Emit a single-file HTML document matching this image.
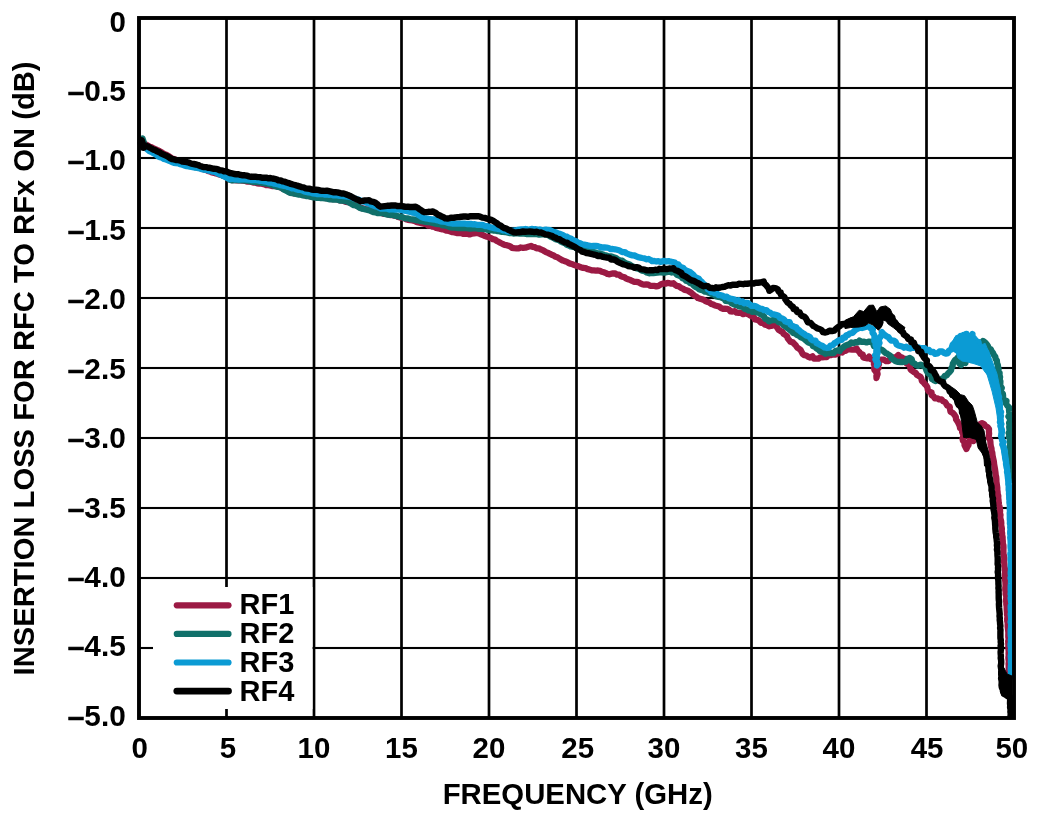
<!DOCTYPE html><html><head><meta charset="utf-8"><style>html,body{margin:0;padding:0;background:#fff;}svg{display:block;will-change:transform;}text{font-family:"Liberation Sans",Arial,sans-serif;font-weight:bold;fill:#000;}</style></head><body>
<svg width="1058" height="824" viewBox="0 0 1058 824">
<rect x="225.15" y="18" width="2.7" height="700" fill="#000"/>
<rect x="312.65" y="18" width="2.7" height="700" fill="#000"/>
<rect x="400.15" y="18" width="2.7" height="700" fill="#000"/>
<rect x="487.65" y="18" width="2.7" height="700" fill="#000"/>
<rect x="575.15" y="18" width="2.7" height="700" fill="#000"/>
<rect x="662.65" y="18" width="2.7" height="700" fill="#000"/>
<rect x="750.15" y="18" width="2.7" height="700" fill="#000"/>
<rect x="837.65" y="18" width="2.7" height="700" fill="#000"/>
<rect x="925.15" y="18" width="2.7" height="700" fill="#000"/>
<rect x="139" y="86.95" width="875" height="2.1" fill="#000"/>
<rect x="139" y="156.95" width="875" height="2.1" fill="#000"/>
<rect x="139" y="226.95" width="875" height="2.1" fill="#000"/>
<rect x="139" y="296.95" width="875" height="2.1" fill="#000"/>
<rect x="139" y="366.95" width="875" height="2.1" fill="#000"/>
<rect x="139" y="436.95" width="875" height="2.1" fill="#000"/>
<rect x="139" y="506.95" width="875" height="2.1" fill="#000"/>
<rect x="139" y="576.95" width="875" height="2.1" fill="#000"/>
<rect x="139" y="646.95" width="875" height="2.1" fill="#000"/>
<rect x="153" y="587" width="159.5" height="122" fill="#fff"/>
<path d="M141.0,142.0 L143.3,143.1 L145.6,144.4 L148.0,145.5 L149.7,146.7 L151.6,147.3 L153.4,148.2 L155.2,149.2 L157.0,150.0 L158.9,150.7 L160.6,151.8 L162.4,152.8 L164.1,153.9 L166.0,154.6 L168.2,155.7 L170.1,157.1 L172.0,158.5 L174.2,159.0 L176.1,160.2 L178.2,160.9 L180.4,161.2 L182.3,162.6 L184.5,163.0 L186.3,164.0 L188.4,164.4 L190.3,165.1 L192.4,165.4 L194.3,166.0 L196.2,167.0 L198.2,167.4 L200.1,168.1 L202.0,169.0 L204.1,169.5 L206.1,169.9 L208.0,170.9 L210.0,171.5 L211.9,172.4 L214.0,172.8 L216.0,173.5 L218.0,174.0 L220.0,174.7 L222.0,175.2 L224.0,175.7 L226.0,176.5 L227.8,178.3 L230.0,179.5 L232.1,180.1 L234.2,180.2 L236.3,180.3 L238.5,180.3 L240.6,180.4 L242.7,180.7 L244.8,180.8 L246.9,181.5 L249.0,181.5 L251.1,181.8 L253.2,182.5 L255.3,182.6 L257.3,183.4 L259.5,183.7 L261.7,183.6 L263.7,184.1 L265.7,185.0 L267.9,185.1 L270.0,185.5 L272.0,186.1 L274.0,186.0 L276.0,186.1 L278.0,186.8 L280.0,187.0 L281.9,188.2 L284.1,189.0 L286.1,189.9 L288.1,191.1 L290.0,192.3 L292.0,193.0 L294.1,193.3 L296.2,193.3 L298.3,193.8 L300.4,194.1 L302.4,194.5 L304.4,195.4 L306.6,195.4 L308.6,196.0 L310.6,196.4 L312.7,196.8 L314.8,196.8 L316.8,197.4 L318.9,197.2 L320.9,197.7 L323.0,197.6 L325.1,198.0 L327.2,198.1 L329.2,198.3 L331.2,199.0 L333.3,199.1 L335.4,199.1 L337.5,199.5 L339.5,200.3 L341.7,200.4 L343.8,201.0 L345.8,201.8 L347.9,202.1 L350.0,202.5 L352.1,203.2 L353.8,204.7 L356.0,205.1 L357.9,206.1 L359.8,207.3 L361.8,208.1 L363.8,208.5 L365.7,209.0 L367.7,209.4 L369.6,209.9 L371.5,210.8 L373.5,211.1 L375.4,211.8 L377.5,212.3 L379.6,212.6 L381.7,213.0 L383.7,213.8 L385.9,213.9 L388.0,214.4 L390.0,215.0 L392.2,215.0 L394.3,215.6 L396.3,215.9 L398.1,217.0 L400.1,217.5 L402.2,217.7 L404.2,218.3 L406.0,219.2 L408.0,219.9 L410.0,220.2 L412.3,220.4 L414.5,221.0 L416.4,221.9 L418.4,222.5 L420.5,222.9 L422.5,223.4 L424.5,223.8 L426.5,224.3 L428.3,225.6 L430.5,225.7 L432.4,226.6 L434.5,226.9 L436.3,227.9 L438.4,228.3 L440.4,228.9 L442.5,229.3 L444.5,229.8 L446.4,230.7 L448.6,230.8 L450.5,231.5 L452.5,232.2 L454.6,232.5 L456.7,233.0 L458.9,233.1 L461.0,233.1 L463.1,233.9 L465.3,233.6 L467.4,233.8 L469.5,234.4 L471.8,233.7 L474.2,233.4 L476.6,232.9 L478.8,233.4 L480.9,234.3 L483.0,235.2 L485.1,236.1 L487.1,236.8 L489.1,237.3 L491.1,238.1 L492.9,239.2 L495.0,239.6 L496.8,241.0 L498.8,241.9 L500.7,243.0 L502.7,244.0 L504.6,244.8 L506.6,245.2 L508.5,245.8 L510.4,246.5 L512.0,247.8 L514.0,248.2 L516.3,248.3 L518.6,248.4 L520.8,247.5 L523.1,247.9 L525.4,247.7 L528.2,246.8 L531.0,246.0 L532.8,246.8 L534.8,247.2 L536.6,248.3 L538.7,248.3 L540.5,249.3 L542.4,249.9 L544.2,251.0 L546.0,252.1 L548.0,252.9 L549.9,253.8 L551.7,254.8 L553.7,255.5 L555.4,256.8 L557.5,257.3 L559.3,258.5 L561.1,259.6 L563.0,260.6 L565.0,261.2 L566.9,261.9 L568.7,263.0 L570.6,263.8 L572.6,264.3 L574.5,265.1 L576.4,265.8 L578.7,266.4 L580.9,267.2 L583.1,267.9 L585.6,268.1 L587.7,269.2 L589.7,269.6 L591.7,270.3 L593.8,270.4 L595.9,270.6 L598.0,270.5 L600.0,270.9 L601.8,271.8 L603.8,272.3 L605.7,272.9 L607.5,274.0 L609.5,274.3 L612.3,273.4 L615.2,273.5 L616.9,274.6 L619.1,274.6 L620.6,276.0 L622.5,276.7 L624.5,277.3 L626.1,278.6 L628.0,279.2 L630.0,279.9 L632.0,280.8 L633.9,281.8 L636.2,281.8 L638.3,282.2 L640.3,283.3 L642.2,284.2 L644.2,284.7 L646.3,284.4 L648.3,284.7 L650.2,285.9 L652.2,285.9 L654.3,285.9 L656.3,286.3 L658.8,285.8 L661.0,284.2 L663.4,283.5 L665.4,283.7 L667.4,283.0 L669.4,283.2 L671.4,283.7 L673.4,283.2 L675.0,284.8 L676.9,285.9 L679.1,286.4 L680.9,287.8 L682.9,288.6 L684.7,289.9 L687.5,290.5 L690.0,292.0 L691.7,293.1 L693.1,294.6 L694.7,295.8 L696.5,296.7 L698.0,298.1 L700.0,298.7 L702.0,299.3 L704.0,300.0 L705.7,301.3 L707.7,301.9 L709.6,302.7 L711.3,304.0 L713.3,304.6 L715.1,305.5 L717.1,306.0 L719.1,306.5 L720.8,307.9 L722.6,308.8 L724.8,308.7 L726.9,308.8 L728.9,309.4 L730.4,311.4 L732.5,311.5 L734.8,311.2 L736.7,312.7 L738.9,312.9 L741.1,312.9 L743.0,314.2 L745.4,313.3 L747.5,314.0 L749.5,315.0 L751.4,316.2 L753.8,316.9 L754.9,319.4 L757.4,319.8 L759.4,321.0 L760.9,322.8 L763.3,322.9 L765.1,324.8 L767.3,325.3 L769.4,326.3 L772.3,325.6 L775.0,324.5 L776.2,326.3 L777.4,328.0 L778.6,329.8 L780.4,331.0 L782.5,331.9 L783.6,333.8 L785.4,335.0 L787.1,336.3 L787.8,338.5 L789.2,340.1 L790.5,341.8 L792.9,342.4 L794.4,344.0 L795.9,345.5 L797.1,347.5 L798.9,348.6 L800.6,350.0 L801.6,351.9 L802.6,353.8 L804.2,355.2 L806.3,355.5 L808.1,356.8 L810.1,357.5 L812.5,356.3 L814.1,358.6 L816.3,358.7 L818.4,358.7 L820.2,357.3 L822.4,357.4 L824.5,357.2 L826.7,357.2 L828.4,355.4 L830.5,355.2 L832.5,354.5 L835.3,354.5 L837.7,353.5 L840.0,352.0 L842.2,352.5 L843.9,350.9 L845.9,350.8 L847.6,349.2 L849.7,349.4 L852.1,349.6 L854.4,349.6 L856.6,348.5 L857.7,350.5 L859.4,352.0 L860.5,353.9 L862.8,354.5 L863.1,357.2 L865.2,358.0 L867.5,358.4 L869.1,356.6 L870.9,359.2 L874.0,360.0 L874.2,362.0 L873.9,364.1 L875.3,365.9 L874.1,368.1 L874.5,370.1 L876.0,371.9 L876.9,373.9 L876.4,376.0 L876.5,378.0 L876.9,376.0 L877.6,374.1 L877.2,372.0 L876.4,369.9 L878.5,368.1 L877.0,365.9 L879.0,364.1 L878.5,362.0 L879.6,360.2 L881.7,359.6 L884.0,359.7 L886.1,361.2 L888.5,361.0 L890.0,359.1 L892.0,357.9 L894.4,357.4 L896.6,356.7 L898.3,355.0 L899.8,356.7 L901.9,357.4 L903.6,358.9 L906.0,359.0 L906.9,361.1 L906.8,363.6 L909.6,364.8 L910.2,367.1 L910.5,369.4 L912.1,370.8 L913.8,372.0 L915.7,372.8 L916.8,374.8 L918.6,375.9 L920.4,376.8 L921.4,378.6 L921.8,380.8 L923.5,382.3 L924.7,384.0 L926.3,385.5 L927.4,387.4 L927.8,389.8 L928.9,391.6 L931.6,392.5 L931.6,395.1 L933.5,396.4 L934.9,398.3 L937.3,398.3 L939.2,399.4 L941.5,399.5 L943.0,401.1 L945.0,402.0 L946.2,403.8 L947.3,405.6 L949.7,406.6 L950.0,409.0 L950.5,411.7 L952.9,413.0 L954.5,414.9 L955.8,417.0 L956.1,419.5 L957.6,421.6 L958.7,423.7 L959.7,426.0 L960.1,428.2 L962.3,429.6 L962.1,432.0 L963.0,434.0 L963.5,436.2 L962.5,438.5 L962.9,440.7 L964.7,442.7 L964.5,445.0 L965.5,447.0 L966.5,449.0 L967.3,446.9 L968.5,445.0 L968.7,442.6 L969.9,440.4 L969.5,438.0 L971.5,437.0 L971.6,439.4 L973.5,441.0 L974.4,439.0 L975.5,437.0 L975.7,434.6 L976.0,432.3 L977.6,430.3 L978.0,428.0 L979.9,426.5 L980.0,424.0 L982.0,423.1 L984.0,424.0 L985.3,426.0 L987.5,427.0 L989.0,429.1 L988.9,431.4 L989.1,433.7 L988.8,436.0 L988.8,438.1 L990.1,439.9 L990.4,441.9 L990.5,444.0 L990.8,446.2 L991.5,448.4 L991.6,450.6 L992.3,452.8 L992.5,455.0 L992.9,457.3 L993.4,459.5 L993.9,461.7 L994.1,464.0 L994.5,466.2 L994.9,468.5 L995.2,470.7 L995.5,472.8 L995.7,475.0 L996.2,477.1 L996.4,479.3 L996.4,481.5 L996.7,483.7 L997.0,485.8 L997.3,488.0 L997.3,490.0 L997.6,492.0 L997.7,494.0 L998.3,496.0 L998.2,498.0 L998.5,500.0 L998.7,502.4 L999.0,504.7 L999.6,507.0 L999.9,509.0 L1000.1,511.0 L999.9,513.0 L1000.5,515.0 L1000.2,517.0 L1000.5,519.0 L1001.1,521.0 L1001.3,523.0 L1001.2,525.0 L1001.6,527.0 L1001.9,529.0 L1001.7,531.0 L1002.1,533.0 L1002.1,535.0 L1002.6,537.0 L1002.6,539.0 L1002.8,541.1 L1002.8,543.3 L1003.4,545.4 L1003.5,547.5 L1003.4,549.6 L1003.4,551.8 L1003.5,553.9 L1004.0,556.0 L1004.3,558.0 L1004.2,560.0 L1004.1,562.0 L1004.4,564.0 L1004.4,566.0 L1004.8,568.0 L1004.9,570.0 L1005.0,572.0 L1005.1,574.0 L1004.9,576.0 L1005.0,578.0 L1005.1,580.0 L1005.4,582.0 L1005.5,584.0 L1005.6,586.0 L1005.3,588.0 L1005.3,590.0 L1005.7,592.0 L1005.6,594.1 L1006.2,596.1 L1006.3,598.1 L1005.9,600.2 L1006.3,602.2 L1006.3,604.3 L1006.7,606.3 L1006.7,608.4 L1006.8,610.4 L1007.0,612.5 L1007.0,614.5 L1007.5,616.6 L1007.2,618.6 L1007.2,620.7 L1007.7,622.7 L1007.7,624.8 L1007.7,626.8 L1008.0,628.9 L1008.2,630.9 L1008.4,632.9 L1008.3,635.0 L1008.3,637.1 L1008.7,639.1 L1008.2,641.2 L1008.3,643.2 L1008.4,645.3 L1008.3,647.3 L1008.5,649.4 L1008.7,651.4 L1008.6,653.5 L1008.7,655.5 L1008.4,657.6 L1008.6,659.6 L1008.9,661.7 L1008.6,663.7 L1008.7,665.8 L1008.7,667.8 L1008.7,669.9 L1009.0,671.9 L1009.0,674.0" fill="none" stroke="#9c1a44" stroke-width="6.3" stroke-linejoin="round" stroke-linecap="round"/>
<path d="M141.0,140.0 L142.5,138.5 L143.4,141.0 L144.1,143.5 L145.0,146.0 L146.8,147.2 L148.9,148.0 L150.8,149.1 L152.5,150.4 L154.5,151.5 L156.1,152.9 L158.1,154.0 L160.0,155.0 L161.9,155.8 L163.8,156.6 L165.6,157.4 L167.6,157.8 L169.4,158.8 L171.4,159.4 L173.1,160.6 L175.2,160.9 L176.9,162.1 L179.0,162.4 L180.7,163.6 L182.7,164.1 L184.5,165.0 L186.7,165.4 L188.9,166.1 L191.2,166.0 L193.4,166.4 L195.5,167.4 L197.8,167.6 L200.0,168.0 L202.2,168.2 L204.2,169.3 L206.4,169.8 L208.6,169.7 L210.7,170.4 L212.9,170.8 L215.0,171.5 L217.0,172.4 L218.8,173.6 L220.9,174.3 L222.6,175.6 L224.7,176.2 L226.5,177.5 L228.4,178.6 L230.0,180.0 L232.2,180.3 L234.4,180.1 L236.6,180.2 L238.8,180.4 L241.0,180.3 L243.2,180.3 L245.4,180.5 L247.5,180.5 L249.6,181.2 L251.7,181.7 L253.8,181.9 L255.9,182.0 L258.0,182.1 L260.1,182.3 L262.2,182.9 L264.3,183.0 L266.2,183.7 L268.3,183.8 L270.2,184.4 L272.2,185.1 L274.1,185.7 L276.0,186.4 L278.0,186.8 L280.0,187.3 L282.2,188.1 L283.9,189.7 L286.0,190.6 L288.0,191.7 L290.0,192.8 L292.1,193.0 L294.1,193.6 L296.2,194.0 L298.2,194.6 L300.4,194.6 L302.4,195.3 L304.5,195.4 L306.5,196.2 L308.6,196.2 L310.7,196.7 L312.7,197.3 L314.8,197.4 L316.8,197.8 L318.9,197.6 L321.0,198.1 L323.0,198.1 L325.1,198.4 L327.1,198.7 L329.2,199.3 L331.3,199.2 L333.3,199.7 L335.4,199.6 L337.8,199.7 L340.2,200.6 L342.6,200.6 L345.0,201.0 L347.6,201.8 L350.0,203.0 L351.9,204.1 L353.8,205.1 L356.0,205.5 L357.9,206.6 L359.8,207.8 L361.8,208.6 L363.8,209.0 L365.7,209.5 L367.7,209.9 L369.7,210.4 L371.5,211.3 L373.4,212.1 L375.4,212.3 L377.4,213.0 L379.6,213.0 L381.8,213.0 L383.8,213.6 L385.9,214.2 L388.0,214.6 L390.1,214.8 L392.2,214.9 L394.3,215.4 L396.3,215.9 L398.2,216.3 L400.2,216.9 L402.2,217.1 L404.0,218.0 L406.0,218.4 L408.1,218.4 L410.0,219.1 L412.3,219.3 L414.5,219.7 L416.4,220.3 L418.5,220.3 L420.4,221.1 L422.5,221.1 L424.4,221.6 L426.4,222.0 L428.5,222.0 L430.5,222.4 L432.5,222.8 L434.4,223.4 L436.4,223.8 L438.4,224.0 L440.5,224.2 L442.4,225.3 L444.5,225.4 L446.5,225.8 L448.5,226.5 L450.4,227.3 L452.5,227.5 L454.5,227.6 L456.6,227.8 L458.6,228.1 L460.6,228.2 L462.6,228.1 L464.7,228.0 L466.7,228.2 L468.7,228.5 L470.7,228.5 L472.8,228.4 L474.8,228.3 L476.8,228.4 L478.9,228.8 L480.9,228.7 L482.9,229.0 L485.0,228.9 L486.9,229.6 L488.9,230.0 L490.9,230.2 L493.0,230.5 L495.0,230.5 L497.0,231.1 L499.1,231.2 L501.1,231.8 L503.1,231.8 L505.2,232.0 L507.2,232.5 L509.2,233.0 L511.3,233.0 L513.4,233.5 L515.6,233.4 L517.7,233.4 L519.8,233.6 L522.0,233.3 L524.1,233.7 L526.2,234.0 L528.4,233.8 L530.5,234.0 L532.7,233.9 L534.9,234.2 L537.1,234.2 L539.2,234.7 L541.5,234.3 L543.6,234.4 L545.8,234.7 L548.0,235.0 L549.8,236.1 L551.7,237.1 L553.6,238.0 L555.4,239.2 L557.5,239.7 L559.5,240.4 L561.2,241.7 L563.2,242.6 L565.2,243.4 L566.8,244.7 L568.9,245.4 L570.7,246.5 L572.8,246.8 L574.9,247.3 L576.8,248.4 L579.1,248.0 L581.1,248.9 L583.1,249.3 L585.2,249.7 L587.2,250.4 L589.3,250.7 L591.2,251.9 L593.4,252.0 L595.6,252.6 L597.8,253.4 L600.1,253.4 L602.3,254.3 L604.5,255.0 L606.7,255.5 L608.9,256.5 L611.4,256.5 L613.7,257.3 L616.0,258.0 L617.8,259.4 L619.8,260.3 L622.1,260.7 L624.0,262.0 L625.9,263.3 L628.0,264.0 L630.1,264.8 L631.9,266.0 L633.9,266.9 L635.8,268.2 L638.0,268.6 L640.0,269.5 L642.2,270.7 L644.7,271.2 L646.8,272.6 L649.2,273.3 L651.2,273.0 L653.3,273.1 L655.3,272.8 L657.3,272.6 L659.3,272.3 L661.4,272.3 L663.4,272.5 L665.4,272.5 L667.4,272.0 L669.4,271.6 L671.4,272.5 L673.4,272.0 L675.4,272.9 L676.9,274.8 L679.0,275.6 L681.0,276.5 L682.6,278.3 L684.7,279.0 L686.1,280.8 L688.4,281.5 L690.0,283.0 L692.2,283.7 L693.7,285.5 L695.4,286.9 L697.5,287.8 L699.2,289.2 L701.3,290.0 L703.2,290.6 L705.0,291.7 L707.1,291.9 L709.0,292.9 L710.9,293.6 L712.8,294.4 L714.7,295.1 L716.3,296.5 L718.4,296.8 L720.5,297.2 L722.4,298.0 L724.2,298.9 L725.6,300.8 L727.8,301.0 L730.0,301.1 L731.4,303.1 L733.2,304.0 L735.2,304.8 L737.4,304.9 L739.0,306.3 L741.2,306.5 L743.2,307.1 L744.6,309.0 L746.7,309.3 L748.4,310.5 L750.7,310.2 L752.2,311.9 L754.6,311.2 L756.3,312.3 L758.4,312.5 L760.0,314.0 L762.2,315.0 L764.0,316.5 L765.1,318.7 L767.4,319.6 L769.0,321.4 L770.9,320.5 L772.9,320.1 L774.9,320.0 L777.0,320.0 L778.2,321.8 L780.1,322.7 L782.3,323.1 L783.3,325.3 L785.1,326.3 L786.8,327.4 L788.3,328.8 L790.0,330.0 L791.7,331.4 L793.3,332.9 L795.4,333.6 L797.1,335.0 L799.1,335.9 L800.8,337.3 L802.9,338.1 L804.6,339.3 L806.3,340.7 L807.9,342.2 L810.0,343.0 L812.0,343.8 L812.9,346.2 L815.1,346.6 L816.4,348.4 L818.3,349.3 L819.7,351.0 L821.7,351.7 L823.8,352.5 L825.4,353.8 L827.4,353.2 L829.5,353.2 L831.6,353.2 L833.7,353.0 L835.4,351.0 L837.4,350.4 L839.6,351.0 L840.8,349.1 L842.4,347.9 L844.1,346.6 L845.7,345.4 L847.7,344.7 L849.7,344.0 L851.3,342.4 L853.7,343.1 L855.6,342.2 L857.8,342.3 L859.4,340.6 L861.7,341.9 L864.2,341.7 L866.6,342.4 L869.1,341.6 L871.6,341.9 L873.1,343.5 L874.0,346.1 L876.4,346.4 L878.6,347.1 L879.7,349.4 L882.0,349.9 L883.7,351.3 L885.2,352.8 L887.2,353.7 L889.0,355.0 L890.8,356.1 L891.6,358.4 L893.4,359.6 L895.6,361.3 L898.0,361.9 L900.5,362.0 L903.1,362.0 L905.9,361.6 L907.5,359.0 L909.9,358.0 L911.8,359.4 L912.2,362.2 L914.3,363.4 L916.0,365.0 L918.1,365.8 L920.6,364.6 L922.6,365.6 L924.7,366.6 L925.8,368.3 L926.4,370.3 L927.3,372.1 L928.6,373.6 L930.5,374.8 L931.5,376.5 L931.7,378.8 L933.5,380.0 L935.8,381.0 L937.8,379.6 L940.0,379.5 L943.7,378.0 L944.6,376.0 L946.8,375.2 L948.0,373.5 L949.6,371.9 L951.0,370.2 L951.5,368.0 L952.6,366.0 L952.8,363.8 L953.9,361.9 L955.0,360.0 L956.8,358.7 L958.2,357.0 L959.7,358.7 L959.5,361.0 L959.3,363.4 L961.0,365.0 L962.2,362.8 L961.8,360.2 L963.0,358.0 L964.4,360.4 L965.5,363.0 L965.4,360.3 L967.7,358.5 L968.0,356.0 L969.2,358.2 L971.0,360.0 L972.0,357.1 L974.3,355.0 L975.8,352.6 L977.0,350.0 L978.5,348.3 L979.7,346.4 L980.8,344.4 L981.7,342.5 L983.0,341.0 L985.0,342.3 L986.6,344.1 L988.0,346.0 L988.3,348.4 L990.8,349.3 L991.7,351.3 L993.0,353.0 L993.9,355.0 L995.3,356.7 L995.6,358.9 L996.9,360.7 L997.0,363.0 L997.8,364.9 L998.1,366.9 L998.6,368.9 L997.6,371.2 L999.6,372.9 L999.5,375.0 L1000.1,377.1 L999.6,379.3 L1000.4,381.4 L1000.3,383.6 L1000.2,385.7 L1001.8,387.8 L1001.0,390.0 L1001.1,392.1 L1002.9,393.8 L1003.1,395.9 L1003.0,398.0 L1004.3,400.1 L1006.5,401.0 L1006.0,403.6 L1007.3,405.6 L1009.1,407.5 L1009.0,410.0 L1009.2,412.1 L1009.7,414.3 L1008.4,416.5 L1009.9,418.6 L1010.1,420.7 L1009.1,422.9 L1009.5,425.0 L1009.2,427.0 L1009.4,429.0 L1009.7,431.0 L1008.6,433.0 L1009.8,435.0 L1008.8,437.0 L1010.1,439.0 L1010.0,441.0 L1010.3,443.0 L1010.0,445.0 L1010.0,447.2 L1010.1,449.3 L1010.6,451.4 L1010.6,453.6 L1010.6,455.7 L1010.9,457.9 L1011.0,460.0 L1011.0,462.0 L1011.0,464.0 L1011.0,466.0 L1011.3,468.0 L1011.4,470.0 L1011.6,472.0 L1011.1,474.0 L1011.2,476.0 L1011.5,478.0 L1011.5,480.0 L1011.9,478.0 L1011.9,476.0 L1011.6,474.0 L1012.1,472.0 L1012.0,470.0" fill="none" stroke="#10706a" stroke-width="6.3" stroke-linejoin="round" stroke-linecap="round"/>
<path d="M141.0,144.0 L142.9,145.4 L144.4,147.1 L146.2,148.6 L148.0,150.0 L149.6,151.3 L151.5,151.9 L153.2,153.0 L155.0,154.0 L156.7,155.0 L158.2,156.4 L160.0,157.3 L162.1,157.8 L164.0,158.9 L166.1,159.5 L168.1,160.3 L170.0,161.2 L172.0,162.0 L174.0,162.8 L176.1,163.2 L178.3,163.4 L180.4,164.2 L182.5,164.7 L184.5,165.5 L186.8,166.2 L189.1,166.5 L191.4,166.9 L193.7,167.3 L196.0,167.5 L198.0,168.1 L200.0,168.4 L202.1,169.2 L204.2,169.6 L206.5,169.8 L208.5,170.7 L210.7,171.0 L212.8,171.7 L215.0,172.0 L216.9,173.0 L218.9,173.8 L220.8,174.7 L222.7,175.7 L224.6,176.5 L226.5,177.6 L230.0,179.0 L232.2,178.8 L234.4,179.3 L236.6,179.3 L238.8,179.5 L241.0,179.3 L243.2,179.3 L245.4,179.3 L247.5,179.7 L249.6,179.5 L251.7,180.1 L253.8,180.1 L255.9,180.2 L258.0,180.4 L260.1,180.9 L262.2,180.9 L264.3,181.3 L266.3,181.7 L268.2,182.3 L270.2,182.7 L272.2,182.9 L274.1,183.7 L276.1,184.0 L278.1,184.4 L280.0,185.1 L282.0,185.4 L284.0,185.9 L286.1,186.2 L288.0,187.0 L290.0,187.4 L292.0,188.3 L294.1,188.4 L296.2,189.2 L298.2,189.9 L300.4,189.8 L302.4,190.4 L304.4,191.4 L306.4,192.0 L308.5,192.4 L310.7,192.6 L312.7,193.4 L314.8,193.5 L316.8,194.0 L318.9,194.1 L320.9,194.2 L323.0,194.0 L325.1,194.6 L327.2,194.4 L329.2,194.8 L331.3,194.5 L333.3,195.3 L335.4,195.1 L337.5,195.4 L339.6,195.8 L341.7,195.7 L343.7,196.2 L345.8,196.4 L347.9,196.7 L350.0,196.9 L352.0,197.5 L353.9,198.5 L356.0,198.9 L358.0,199.6 L360.0,200.2 L361.8,201.3 L363.9,201.6 L365.9,202.4 L367.8,203.3 L369.8,203.8 L371.5,204.9 L373.4,205.6 L375.3,206.3 L377.3,206.7 L379.1,207.7 L381.0,208.5 L383.2,208.6 L385.4,208.5 L387.5,208.7 L389.6,209.5 L391.9,209.1 L394.0,209.5 L396.6,209.6 L399.2,209.7 L401.8,210.1 L403.9,210.6 L406.1,210.8 L408.2,211.5 L410.3,211.9 L412.3,212.7 L414.5,213.0 L416.6,213.7 L418.4,214.9 L420.2,216.0 L421.9,217.3 L424.0,218.0 L426.1,218.4 L428.1,218.7 L430.2,219.2 L432.3,219.3 L434.3,219.5 L436.3,220.1 L438.4,220.5 L440.6,221.3 L442.9,221.7 L445.2,221.8 L447.4,222.6 L449.7,223.2 L452.0,223.5 L454.1,223.4 L456.2,223.7 L458.3,223.6 L460.4,223.6 L462.5,223.7 L464.6,223.7 L466.7,224.0 L468.7,224.0 L470.8,223.9 L472.8,224.3 L474.8,224.2 L476.8,224.8 L478.9,224.8 L480.9,224.8 L483.0,225.0 L484.9,226.0 L487.0,226.1 L489.0,226.8 L491.0,227.4 L493.0,227.8 L495.0,228.4 L497.1,228.7 L499.1,229.2 L501.1,229.5 L503.1,230.4 L505.2,230.3 L507.1,231.3 L509.2,231.5 L511.2,231.0 L513.2,230.7 L515.3,230.5 L517.2,229.9 L519.3,229.7 L521.3,229.5 L523.4,229.3 L525.4,229.0 L527.4,229.4 L529.5,229.6 L531.6,228.9 L533.6,229.4 L535.7,229.1 L537.7,229.8 L539.8,229.5 L541.8,230.1 L543.9,229.9 L546.0,229.6 L548.0,230.0 L550.0,230.2 L551.9,231.1 L553.6,232.2 L555.7,232.2 L557.5,233.1 L559.4,233.8 L561.3,234.5 L563.2,235.2 L564.9,236.4 L567.0,236.7 L568.7,237.9 L570.7,238.5 L572.5,239.6 L574.3,240.8 L576.4,241.4 L578.1,242.7 L580.2,243.3 L582.1,244.3 L584.3,244.7 L586.6,245.1 L588.8,245.7 L591.1,246.1 L593.4,246.0 L595.7,245.9 L597.9,246.2 L600.0,246.9 L602.2,247.5 L604.5,247.5 L606.7,247.7 L608.8,248.0 L610.6,249.2 L612.8,249.0 L614.9,249.3 L617.0,249.8 L619.0,250.3 L620.9,251.3 L622.8,252.2 L624.9,252.1 L626.6,253.4 L628.5,254.1 L630.4,254.9 L632.4,255.3 L634.5,255.5 L636.3,256.3 L638.2,257.2 L640.2,257.6 L642.2,258.0 L644.3,258.3 L646.2,259.3 L648.4,259.0 L650.3,259.8 L652.1,261.1 L654.3,261.0 L656.3,261.5 L658.3,261.2 L660.3,261.9 L662.3,261.4 L664.3,260.9 L666.3,261.5 L668.5,261.1 L670.6,261.7 L672.7,262.0 L674.8,262.5 L676.2,264.1 L678.4,264.4 L679.6,266.2 L681.3,267.3 L683.4,268.0 L684.6,269.7 L686.5,270.6 L688.4,271.4 L690.3,272.2 L691.8,273.6 L693.5,274.9 L694.7,276.7 L696.7,277.7 L698.6,278.6 L700.0,280.3 L701.5,281.6 L702.8,283.2 L704.4,284.4 L705.4,286.2 L707.4,287.2 L707.9,289.4 L710.0,290.2 L711.0,292.0 L713.1,292.1 L714.9,293.4 L717.0,293.6 L718.6,295.1 L720.8,295.2 L722.7,295.8 L724.5,297.0 L726.8,296.7 L728.5,298.1 L730.5,298.6 L732.5,299.0 L734.5,299.5 L736.1,301.0 L738.5,300.1 L740.1,302.0 L742.4,301.5 L743.9,303.3 L746.2,302.8 L748.2,303.2 L749.9,304.6 L751.6,305.9 L753.8,305.8 L756.0,306.3 L757.9,307.5 L759.8,308.6 L762.1,308.8 L763.9,310.1 L766.3,310.1 L768.0,311.8 L770.1,312.7 L771.8,314.2 L774.2,314.4 L776.3,315.1 L778.5,315.8 L780.0,317.9 L782.2,318.5 L784.0,319.5 L785.3,321.4 L787.2,322.2 L789.7,322.2 L790.6,324.7 L792.3,325.8 L794.2,326.7 L796.3,327.3 L797.4,329.2 L799.2,330.3 L800.7,331.7 L802.4,332.9 L804.2,334.0 L805.9,335.4 L808.0,336.1 L810.0,337.1 L811.0,339.3 L813.0,340.4 L815.4,340.6 L816.4,342.9 L818.4,343.9 L820.4,345.1 L822.6,346.0 L824.5,347.5 L826.9,348.0 L829.2,347.6 L830.4,345.5 L832.7,345.2 L834.2,343.4 L836.1,342.4 L837.7,341.0 L839.6,340.0 L841.8,339.8 L842.9,337.7 L845.2,337.6 L846.1,335.3 L848.2,334.9 L849.7,333.5 L852.3,333.0 L854.1,331.2 L856.0,329.5 L857.9,328.7 L859.8,327.5 L862.0,328.0 L864.6,327.2 L867.2,326.5 L869.2,327.0 L870.8,328.5 L873.0,328.5 L872.6,330.7 L872.5,332.8 L874.1,334.7 L874.5,336.7 L874.4,338.8 L874.3,341.0 L876.2,342.8 L875.5,345.0 L876.3,347.0 L876.6,349.0 L876.3,351.1 L876.5,353.2 L875.1,355.3 L877.0,357.3 L875.4,359.4 L877.1,361.4 L877.5,363.4 L876.9,365.5 L878.2,363.5 L876.2,361.3 L876.5,359.3 L876.7,357.2 L876.7,355.2 L877.6,353.2 L877.3,351.1 L877.4,349.0 L877.2,347.0 L878.5,345.0 L879.5,342.9 L878.5,340.4 L879.5,338.3 L880.8,336.4 L882.1,334.4 L881.7,332.0 L883.2,333.6 L884.8,335.0 L886.5,336.3 L888.5,337.2 L889.7,339.1 L891.2,340.6 L893.9,340.7 L895.7,341.9 L896.5,344.3 L898.3,345.5 L900.2,346.0 L902.2,346.5 L904.0,347.7 L906.3,346.7 L908.0,348.0 L910.1,348.5 L912.2,347.8 L914.3,347.8 L916.4,347.4 L918.4,347.5 L920.5,348.3 L922.6,348.2 L924.7,348.1 L926.3,350.1 L929.0,350.0 L930.6,352.0 L933.3,351.9 L934.9,353.9 L937.5,353.4 L939.5,351.5 L942.2,351.4 L943.9,352.8 L945.8,353.6 L948.0,353.1 L948.8,350.7 L951.3,349.4 L952.0,347.0 L952.7,344.6 L954.6,343.0 L955.5,345.2 L956.5,347.5 L956.0,350.0 L956.1,348.0 L955.6,345.9 L957.2,344.1 L957.2,342.0 L957.1,340.0 L957.5,338.0 L957.2,340.1 L958.6,341.9 L958.5,344.0 L958.7,346.0 L959.8,347.9 L957.9,350.1 L959.0,352.0 L958.2,349.9 L958.4,347.9 L960.3,346.1 L960.5,344.1 L959.8,342.0 L959.9,340.0 L959.5,337.9 L960.5,336.0 L961.9,337.9 L960.8,340.0 L961.7,341.9 L962.1,343.9 L960.5,346.1 L962.8,347.9 L962.1,350.0 L962.0,352.0 L962.8,349.9 L963.0,347.8 L961.6,345.5 L963.3,343.6 L963.1,341.4 L963.4,339.3 L964.4,337.2 L963.5,335.0 L963.0,337.2 L963.6,339.2 L963.4,341.4 L964.2,343.4 L964.2,345.6 L963.7,347.7 L964.4,349.8 L965.1,351.9 L965.0,354.0 L964.0,351.9 L966.0,350.1 L965.1,348.0 L965.4,346.0 L965.2,344.0 L966.0,342.0 L965.8,340.0 L967.0,338.1 L966.6,336.0 L966.5,334.0 L966.5,336.0 L966.1,338.0 L967.1,340.0 L967.0,342.0 L966.6,344.0 L966.8,346.0 L966.9,348.0 L966.7,350.1 L967.6,352.0 L967.7,354.0 L968.0,356.0 L967.4,353.9 L967.7,352.0 L968.3,350.0 L968.6,348.0 L969.7,346.1 L967.8,343.9 L968.7,342.0 L969.8,340.0 L969.3,338.0 L969.5,336.0 L968.8,338.2 L970.6,340.2 L969.4,342.4 L970.3,344.4 L970.2,346.6 L971.6,348.6 L970.9,350.8 L970.1,352.9 L971.0,355.0 L971.7,352.9 L971.5,350.8 L971.3,348.7 L970.5,346.5 L972.2,344.5 L971.8,342.4 L972.6,340.3 L972.5,338.2 L972.1,336.1 L972.5,334.0 L971.7,336.1 L973.7,337.9 L971.8,340.1 L974.0,341.9 L972.1,344.1 L973.1,346.0 L973.6,348.0 L972.5,350.1 L973.7,352.0 L973.8,354.0 L974.0,356.0 L973.1,353.9 L975.1,352.1 L974.9,350.0 L974.1,347.9 L974.0,345.9 L974.9,344.0 L976.4,342.1 L975.5,340.0 L974.8,342.1 L975.9,344.0 L977.1,345.9 L975.4,348.1 L977.0,349.9 L975.9,352.0 L976.7,354.0 L975.7,356.1 L977.0,358.0 L976.3,355.9 L978.1,354.1 L978.1,352.0 L976.6,349.9 L978.1,348.0 L977.6,346.0 L978.8,344.0 L978.5,342.0 L977.6,344.1 L978.4,346.0 L979.0,348.0 L978.9,350.0 L979.9,351.9 L979.6,354.0 L980.6,355.9 L979.3,358.0 L980.0,360.0 L979.2,357.9 L980.6,356.0 L980.0,353.9 L981.2,352.0 L980.2,349.9 L981.5,348.0 L983.3,349.6 L982.6,352.1 L983.1,354.2 L983.4,356.3 L985.0,358.0 L985.4,360.2 L985.6,362.5 L988.3,363.7 L988.0,366.1 L988.9,368.1 L990.0,370.0 L991.5,371.7 L992.3,373.7 L992.8,375.8 L992.9,378.0 L993.1,380.2 L994.5,382.0 L994.6,384.3 L995.5,386.4 L997.2,388.2 L996.3,390.8 L997.4,392.8 L998.0,395.0 L999.1,397.0 L998.4,399.4 L999.6,401.4 L999.8,403.6 L999.8,405.8 L1000.0,408.0 L999.5,410.0 L1001.1,412.0 L1000.4,414.0 L1001.0,416.0 L1000.0,418.0 L1000.5,420.0 L999.9,422.1 L1001.4,424.0 L1000.4,426.0 L1001.2,428.0 L1001.9,429.9 L1001.9,432.0 L1001.5,434.0 L1001.0,436.1 L1001.6,438.0 L1002.0,440.0 L1003.7,442.0 L1002.3,444.6 L1003.5,446.8 L1004.0,449.0 L1004.4,451.1 L1004.8,453.2 L1005.0,455.4 L1005.1,457.5 L1005.7,459.6 L1006.1,461.7 L1006.0,463.9 L1006.5,466.0 L1006.8,468.0 L1007.3,470.0 L1007.0,472.0 L1007.7,474.0 L1007.8,476.0 L1007.9,478.0 L1008.2,480.0 L1008.5,482.0 L1008.4,484.0 L1008.9,486.0 L1008.8,488.0 L1008.7,490.0 L1009.1,492.0 L1009.0,494.0 L1009.3,496.0 L1009.3,498.0 L1009.5,500.0 L1009.4,502.5 L1009.8,505.0 L1009.9,507.0 L1009.7,509.1 L1010.0,511.1 L1009.7,513.2 L1009.8,515.2 L1009.8,517.2 L1009.8,519.3 L1010.0,521.3 L1009.9,523.4 L1010.4,525.4 L1010.2,527.4 L1010.5,529.5 L1010.2,531.5 L1010.2,533.6 L1010.5,535.6 L1010.2,537.6 L1010.5,539.7 L1010.6,541.7 L1010.7,543.8 L1010.5,545.8 L1010.6,547.8 L1010.9,549.9 L1010.7,551.9 L1010.4,554.0 L1010.7,556.0 L1010.7,558.0 L1010.6,560.0 L1010.8,562.0 L1011.0,564.0 L1010.7,566.0 L1010.9,568.0 L1011.0,570.0 L1010.7,572.0 L1010.7,574.0 L1011.1,576.0 L1010.5,578.0 L1011.1,580.0 L1011.0,582.0 L1010.9,584.0 L1010.7,586.0 L1010.7,588.0 L1010.7,590.0 L1010.9,592.0 L1010.6,594.0 L1011.1,596.0 L1010.6,598.0 L1010.9,600.0 L1011.2,602.0 L1011.1,604.0 L1010.7,606.0 L1010.7,608.0 L1010.8,610.0 L1011.1,612.0 L1010.7,614.0 L1010.9,616.0 L1011.1,618.0 L1011.1,620.0 L1010.6,622.0 L1011.2,624.0 L1011.1,626.0 L1011.0,628.0 L1010.7,630.0 L1010.7,632.0 L1010.7,634.0 L1010.8,636.0 L1011.2,638.0 L1010.8,640.0 L1011.1,642.0 L1010.6,644.0 L1010.6,646.0 L1011.2,648.0 L1010.8,650.0 L1011.1,652.0 L1011.1,654.0 L1010.7,656.0 L1010.9,658.0 L1011.0,660.0 L1010.9,662.0 L1011.2,664.0 L1010.9,666.0 L1010.8,668.0 L1010.7,670.0 L1011.1,672.0 L1010.7,674.0 L1010.9,676.0" fill="none" stroke="#0b9bd4" stroke-width="6.3" stroke-linejoin="round" stroke-linecap="round"/>
<path d="M975.0,346.8 L981.8,362.0 L986.9,374.0 L992.0,391.0 L996.0,408.0 L997.8,420.0 L999.8,440.0 L1001.2,449.0 L1004.1,466.0 L1006.0,482.0 L1007.0,500.0 L1012.0,500.0 L1011.0,482.0 L1009.0,466.0 L1007.0,449.0 L1004.1,440.0 L1003.2,420.0 L1002.0,408.0 L1000.5,391.0 L997.0,374.0 L992.0,360.4 L985.2,343.4Z" fill="#0b9bd4" stroke="#0b9bd4" stroke-width="1" stroke-linejoin="round"/>
<path d="M950.0,346.0 L954.6,337.6 L959.4,336.7 L962.3,333.7 L965.2,333.7 L968.2,337.6 L971.1,334.7 L974.0,335.7 L976.9,343.4 L980.8,348.3 L985.6,347.3 L988.5,350.2 L990.5,357.0 L990.0,378.0 L985.0,372.0 L980.8,366.0 L975.0,364.0 L968.0,362.0 L962.0,361.0 L958.0,358.0 L955.0,350.0 L950.0,352.0Z" fill="#0b9bd4" stroke="#0b9bd4" stroke-width="1" stroke-linejoin="round"/>
<path d="M141.0,143.0 L143.5,145.5 L145.8,145.7 L148.0,146.5 L149.7,147.6 L151.5,148.5 L153.3,149.7 L155.3,150.2 L157.0,151.3 L159.3,152.2 L161.4,153.6 L163.7,154.6 L166.0,155.6 L168.1,156.6 L169.9,158.0 L172.0,159.0 L174.1,159.4 L176.1,160.1 L178.3,160.1 L180.4,160.6 L182.4,161.5 L184.5,161.7 L186.8,162.2 L189.1,162.7 L191.3,163.6 L193.7,164.0 L196.0,164.5 L198.1,165.0 L200.0,165.9 L202.0,166.6 L204.0,167.1 L206.0,167.1 L208.0,167.8 L210.0,167.8 L212.0,168.3 L214.0,168.8 L216.1,168.9 L218.0,169.4 L219.9,170.4 L222.0,170.4 L223.9,171.2 L226.0,171.3 L228.0,172.1 L230.0,173.0 L232.1,173.4 L234.2,174.0 L236.3,174.2 L238.5,174.2 L240.5,174.9 L242.7,175.3 L244.8,175.3 L246.9,175.7 L249.0,176.3 L251.1,176.8 L253.3,176.7 L255.4,176.7 L257.5,177.1 L259.7,177.1 L261.8,177.7 L264.0,177.7 L266.1,177.6 L268.2,178.3 L270.4,178.0 L272.5,178.5 L274.6,178.9 L276.6,179.3 L278.5,180.4 L280.7,180.5 L282.6,181.4 L284.7,181.7 L286.7,182.5 L288.8,183.1 L290.9,183.9 L293.0,184.5 L295.1,185.0 L297.2,185.7 L299.3,186.3 L301.4,187.1 L303.6,187.4 L305.6,188.3 L307.7,188.6 L309.7,188.7 L311.7,189.5 L313.8,189.9 L315.9,189.6 L318.0,189.9 L320.0,190.5 L322.2,190.8 L324.5,190.9 L326.8,190.7 L329.0,191.2 L331.1,191.7 L333.1,192.2 L335.3,192.1 L337.4,192.4 L339.4,192.9 L341.5,193.5 L343.6,193.5 L345.8,194.2 L347.9,195.1 L350.0,195.9 L352.0,197.0 L354.1,198.1 L356.3,199.1 L358.5,200.0 L360.6,201.2 L362.7,200.9 L364.8,200.4 L367.0,200.4 L369.1,200.3 L370.9,201.4 L373.0,201.8 L375.0,202.5 L376.9,203.8 L378.5,205.5 L380.5,206.7 L382.7,206.4 L384.9,206.1 L387.1,205.8 L389.3,205.7 L391.5,205.5 L393.7,205.5 L395.7,205.5 L397.7,206.1 L399.8,205.9 L401.8,206.1 L403.8,206.5 L405.7,206.9 L407.8,206.7 L409.8,207.0 L412.8,207.0 L415.7,206.7 L417.4,207.7 L419.1,208.9 L420.8,209.9 L422.3,211.2 L424.2,212.0 L426.3,212.1 L428.5,211.8 L430.6,211.9 L432.7,211.5 L434.6,212.4 L436.4,213.4 L438.0,214.7 L439.9,215.5 L441.7,216.6 L443.6,217.3 L445.4,218.4 L447.5,218.5 L449.5,218.1 L451.5,217.6 L453.5,217.9 L455.5,217.4 L457.6,217.1 L459.6,217.0 L461.6,216.7 L463.7,216.5 L465.7,216.5 L467.8,216.8 L469.8,216.3 L471.9,216.3 L473.9,216.3 L476.0,216.3 L478.0,216.2 L480.2,216.7 L482.4,217.6 L484.7,217.9 L486.9,218.6 L489.1,219.2 L491.3,219.9 L493.3,220.9 L495.2,222.2 L497.1,223.3 L498.8,224.9 L500.9,225.8 L502.7,227.2 L504.5,228.2 L506.5,228.7 L508.3,229.8 L510.2,230.7 L512.2,231.4 L514.0,232.3 L516.3,232.5 L518.6,232.2 L520.8,232.0 L523.1,231.5 L525.4,231.7 L527.7,231.6 L529.9,231.5 L532.2,231.7 L534.4,232.1 L536.7,231.7 L538.9,232.6 L541.3,232.5 L543.4,233.6 L545.6,234.4 L548.0,234.6 L549.9,235.4 L551.9,235.8 L553.6,237.2 L555.6,237.6 L557.3,238.8 L559.4,239.2 L561.1,240.4 L563.0,241.3 L564.9,242.4 L567.1,242.6 L568.7,244.1 L570.7,244.8 L572.7,245.8 L574.7,246.8 L576.5,248.1 L578.3,249.4 L580.4,250.0 L582.1,251.6 L584.4,252.1 L586.5,253.0 L588.9,253.3 L591.1,253.9 L593.4,254.5 L595.7,254.8 L597.7,256.0 L600.1,255.7 L602.2,256.7 L604.4,257.2 L606.7,257.5 L609.2,257.7 L611.2,259.5 L613.8,259.5 L616.0,260.5 L617.8,261.9 L619.8,262.8 L621.8,263.7 L623.8,264.5 L626.0,265.0 L628.0,266.0 L630.1,266.4 L632.3,266.7 L634.3,267.8 L636.6,267.2 L638.7,267.7 L640.6,269.1 L642.8,269.4 L644.9,269.7 L647.0,270.4 L649.2,270.3 L651.2,270.1 L653.3,270.3 L655.3,269.7 L657.4,270.1 L659.3,268.8 L661.4,269.1 L663.4,269.0 L665.4,268.9 L667.4,269.1 L669.4,268.4 L671.4,268.6 L673.4,268.2 L674.9,270.0 L677.2,270.7 L679.3,271.8 L681.3,272.9 L682.5,275.1 L684.7,276.0 L686.5,277.1 L688.3,278.2 L690.0,279.5 L691.9,280.5 L694.0,280.9 L695.8,282.0 L697.7,283.0 L699.6,283.9 L701.3,285.2 L703.3,286.2 L705.7,285.9 L707.8,286.2 L709.7,287.9 L711.9,288.0 L714.1,288.4 L716.0,287.3 L718.2,287.9 L720.3,287.5 L722.3,287.0 L724.4,286.8 L726.3,285.9 L728.3,285.2 L730.5,285.6 L732.5,284.8 L734.6,284.8 L736.8,284.8 L738.8,283.8 L741.0,283.9 L743.2,284.2 L745.2,283.6 L747.4,283.8 L749.5,283.4 L751.6,283.2 L753.7,283.5 L755.8,282.6 L757.9,282.7 L760.0,282.5 L763.7,281.5 L764.3,283.6 L766.0,285.0 L767.4,286.8 L768.8,288.6 L769.4,290.8 L771.4,289.6 L773.0,288.0 L775.7,288.1 L777.9,289.5 L778.6,291.5 L780.7,292.5 L780.9,294.8 L782.7,296.0 L784.5,297.2 L785.2,299.2 L786.4,300.8 L787.7,302.6 L789.6,303.8 L790.9,305.6 L792.9,306.7 L793.6,309.1 L796.3,309.5 L797.0,312.0 L799.7,312.4 L800.6,314.6 L802.2,316.0 L804.4,316.8 L805.9,318.3 L806.9,320.4 L808.0,322.4 L810.5,322.8 L811.9,324.4 L813.4,326.0 L815.4,327.0 L817.3,328.4 L819.6,329.0 L821.6,330.0 L823.0,332.1 L825.4,332.5 L827.6,331.9 L829.5,330.7 L832.0,331.0 L834.3,330.6 L836.0,328.8 L837.9,327.3 L840.0,326.0 L841.5,324.1 L843.7,324.0 L846.2,324.5 L847.5,322.1 L849.7,322.0 L852.1,320.3 L855.0,320.0 L857.5,319.6 L859.4,318.0 L862.4,317.4 L865.2,318.7 L867.2,317.3 L867.2,314.5 L869.0,313.0 L871.0,312.7 L873.0,313.0 L874.3,315.6 L876.0,318.0 L877.5,319.7 L876.6,322.2 L878.0,324.0 L878.5,326.0 L879.7,324.2 L880.4,322.2 L879.4,319.7 L881.0,318.0 L883.0,316.4 L884.3,314.4 L885.0,312.0 L887.2,312.8 L888.5,314.8 L890.5,316.0 L892.3,317.4 L892.7,319.7 L893.5,321.7 L895.4,323.0 L896.3,325.0 L897.5,326.7 L899.5,327.8 L900.0,330.0 L903.1,332.5 L903.9,334.6 L905.7,335.7 L907.3,337.0 L908.2,339.1 L911.0,339.5 L911.2,342.2 L913.9,342.7 L914.6,345.0 L915.9,346.9 L918.0,348.2 L918.2,351.0 L921.1,351.6 L921.8,354.0 L922.9,355.7 L923.9,357.4 L925.2,359.0 L926.9,360.3 L926.7,362.8 L927.1,364.9 L929.1,366.0 L930.6,367.6 L930.7,370.0 L933.1,371.0 L934.4,372.7 L935.3,374.7 L936.4,376.5 L937.0,378.9 L938.8,380.2 L940.5,381.5 L943.1,382.2 L943.7,384.5 L945.2,386.2 L947.5,387.3 L948.9,389.1 L949.7,391.3 L951.4,392.9 L952.4,395.0 L954.6,395.6 L955.4,397.7 L957.0,399.0 L957.2,401.1 L957.7,403.1 L958.6,404.9 L960.5,406.3 L961.9,407.8 L962.0,410.0 L962.0,412.5 L964.2,413.9 L965.3,415.8 L965.3,418.3 L967.0,420.0 L968.1,422.1 L968.6,424.6 L970.3,426.3 L972.0,428.0 L972.4,430.4 L975.2,431.0 L974.9,433.9 L977.0,435.0 L978.2,436.8 L979.1,438.8 L981.1,440.0 L982.0,442.0 L983.2,443.8 L983.3,446.0 L984.0,447.9 L984.1,450.1 L985.0,452.0 L985.8,453.9 L986.4,456.0 L986.8,458.0 L987.5,460.0 L987.9,462.2 L988.1,464.4 L988.3,466.6 L988.5,468.8 L988.6,471.0 L989.3,473.1 L989.2,475.3 L989.6,477.4 L990.2,479.5 L990.2,481.7 L990.8,483.8 L991.4,485.8 L991.6,488.0 L991.5,490.2 L992.2,492.2 L992.1,494.4 L992.3,496.5 L993.0,498.6 L992.7,500.8 L993.1,502.9 L993.3,505.0 L993.5,507.1 L993.5,509.3 L994.0,511.4 L994.3,513.5 L994.6,515.6 L994.3,517.8 L994.8,519.9 L995.0,522.0 L995.1,524.1 L995.3,526.3 L995.3,528.4 L995.5,530.5 L995.7,532.6 L996.2,534.8 L996.2,536.9 L996.6,539.0 L996.8,541.1 L997.1,543.2 L996.9,545.4 L997.3,547.5 L996.9,549.6 L997.4,551.7 L997.4,553.9 L997.5,556.0 L997.7,558.0 L997.7,560.0 L997.7,562.0 L997.6,564.0 L998.1,566.0 L998.0,568.0 L998.1,570.0 L997.7,572.0 L998.1,574.0 L998.1,576.0 L997.9,578.0 L998.3,580.0 L998.4,582.0 L998.4,584.0 L998.6,586.0 L998.4,588.0 L998.7,590.0 L998.6,592.0 L998.7,594.0 L998.7,596.0 L998.7,598.0 L998.8,600.0 L999.1,602.0 L998.9,604.0 L999.0,606.0 L999.1,608.0 L999.3,610.0 L999.5,612.0 L999.7,614.0 L999.5,616.0 L999.8,618.0 L999.7,620.0 L1000.0,622.0 L1000.1,624.0 L1000.4,626.0 L1000.1,628.0 L1000.5,630.0 L1000.4,632.0 L1000.4,634.0 L1000.4,636.0 L1000.4,638.0 L1000.8,640.0 L1000.7,642.0 L1001.0,644.0 L1000.6,646.0 L1001.1,648.0 L1000.9,650.0 L1000.6,652.0 L1000.7,654.0 L1000.9,656.0 L1000.7,658.0 L1001.1,660.0 L1001.2,662.0 L1001.1,664.0 L1000.7,666.0 L1001.0,668.0 L1001.3,670.1 L1001.2,672.2 L1001.2,674.4 L1001.4,676.5 L1001.1,678.6 L1001.6,680.7 L1001.7,682.9 L1001.5,685.0 L1001.8,687.3 L1003.0,689.4 L1003.5,691.7 L1004.0,694.0 L1006.0,695.0 L1007.9,696.2 L1010.0,697.0 L1010.2,699.1 L1010.1,701.2 L1010.0,703.3 L1010.2,705.4 L1010.1,707.6 L1010.6,709.7 L1010.4,711.8 L1010.7,713.9 L1010.5,716.0" fill="none" stroke="#000" stroke-width="6.4" stroke-linejoin="round" stroke-linecap="round"/>
<path d="M845.0,320.7 L847.8,319.0 L853.5,316.7 L859.2,310.2 L863.7,311.6 L868.8,305.4 L873.4,305.1 L876.8,311.6 L880.2,307.0 L885.8,305.9 L890.4,309.3 L893.2,316.2 L898.9,323.0 L905.0,327.5 L901.7,334.3 L893.2,327.5 L888.1,324.0 L886.0,321.0 L882.4,320.0 L881.5,326.4 L878.5,330.3 L873.4,325.2 L868.8,323.0 L864.9,325.8 L859.2,327.0 L850.7,327.5 L845.0,328.6Z" fill="#000" stroke="#000" stroke-width="1" stroke-linejoin="round"/>
<path d="M950.0,386.0 L955.8,389.9 L960.7,394.7 L964.6,395.7 L968.4,401.5 L972.3,405.4 L974.3,411.2 L977.2,421.9 L981.1,425.8 L984.0,430.6 L985.9,443.3 L988.8,453.0 L989.5,466.0 L984.5,466.0 L984.0,457.8 L982.0,453.0 L978.2,448.1 L976.2,439.4 L969.4,437.4 L963.6,437.4 L961.7,421.9 L959.7,411.2 L955.8,400.5 L950.0,396.7Z" fill="#000" stroke="#000" stroke-width="1" stroke-linejoin="round"/>
<path d="M999.8,669.6 L1000.3,692.0 L1002.0,695.5 L1008.3,695.5 L1008.8,716.0 L1012.0,716.0 L1012.0,676.0 L1007.0,674.0 L1004.0,668.0Z" fill="#000" stroke="#000" stroke-width="1" stroke-linejoin="round"/>
<path d="M141.5,140.5 L143.5,147.5" stroke="#000" stroke-width="7" stroke-linecap="round"/>
<rect x="139" y="18" width="875" height="700" fill="none" stroke="#000" stroke-width="3.9"/>
<line x1="176.8" y1="605.3" x2="228.5" y2="605.3" stroke="#9c1a44" stroke-width="6.2" stroke-linecap="round"/>
<text x="239.5" y="614.0" font-size="29.5" textLength="54.8" lengthAdjust="spacingAndGlyphs">RF1</text>
<line x1="176.8" y1="633.9" x2="228.5" y2="633.9" stroke="#10706a" stroke-width="6.2" stroke-linecap="round"/>
<text x="239.5" y="642.9" font-size="29.5" textLength="54.8" lengthAdjust="spacingAndGlyphs">RF2</text>
<line x1="176.8" y1="662.5" x2="228.5" y2="662.5" stroke="#0b9bd4" stroke-width="6.2" stroke-linecap="round"/>
<text x="239.5" y="671.7" font-size="29.5" textLength="54.8" lengthAdjust="spacingAndGlyphs">RF3</text>
<line x1="176.8" y1="691.1" x2="228.5" y2="691.1" stroke="#000" stroke-width="6.8" stroke-linecap="round"/>
<text x="239.5" y="700.6" font-size="29.5" textLength="54.8" lengthAdjust="spacingAndGlyphs">RF4</text>
<text x="125.8" y="31.6" font-size="29.5" text-anchor="end" textLength="16.4" lengthAdjust="spacingAndGlyphs">0</text>
<text x="125.8" y="101.0" font-size="29.5" text-anchor="end" textLength="58.0" lengthAdjust="spacingAndGlyphs"><tspan dy="1" stroke="#000" stroke-width="0.6">–</tspan><tspan dy="-1">0.5</tspan></text>
<text x="125.8" y="170.4" font-size="29.5" text-anchor="end" textLength="58.0" lengthAdjust="spacingAndGlyphs"><tspan dy="1" stroke="#000" stroke-width="0.6">–</tspan><tspan dy="-1">1.0</tspan></text>
<text x="125.8" y="239.9" font-size="29.5" text-anchor="end" textLength="58.0" lengthAdjust="spacingAndGlyphs"><tspan dy="1" stroke="#000" stroke-width="0.6">–</tspan><tspan dy="-1">1.5</tspan></text>
<text x="125.8" y="309.3" font-size="29.5" text-anchor="end" textLength="58.0" lengthAdjust="spacingAndGlyphs"><tspan dy="1" stroke="#000" stroke-width="0.6">–</tspan><tspan dy="-1">2.0</tspan></text>
<text x="125.8" y="378.7" font-size="29.5" text-anchor="end" textLength="58.0" lengthAdjust="spacingAndGlyphs"><tspan dy="1" stroke="#000" stroke-width="0.6">–</tspan><tspan dy="-1">2.5</tspan></text>
<text x="125.8" y="448.1" font-size="29.5" text-anchor="end" textLength="58.0" lengthAdjust="spacingAndGlyphs"><tspan dy="1" stroke="#000" stroke-width="0.6">–</tspan><tspan dy="-1">3.0</tspan></text>
<text x="125.8" y="517.5" font-size="29.5" text-anchor="end" textLength="58.0" lengthAdjust="spacingAndGlyphs"><tspan dy="1" stroke="#000" stroke-width="0.6">–</tspan><tspan dy="-1">3.5</tspan></text>
<text x="125.8" y="587.0" font-size="29.5" text-anchor="end" textLength="58.0" lengthAdjust="spacingAndGlyphs"><tspan dy="1" stroke="#000" stroke-width="0.6">–</tspan><tspan dy="-1">4.0</tspan></text>
<text x="125.8" y="656.4" font-size="29.5" text-anchor="end" textLength="58.0" lengthAdjust="spacingAndGlyphs"><tspan dy="1" stroke="#000" stroke-width="0.6">–</tspan><tspan dy="-1">4.5</tspan></text>
<text x="125.8" y="725.8" font-size="29.5" text-anchor="end" textLength="58.0" lengthAdjust="spacingAndGlyphs"><tspan dy="1" stroke="#000" stroke-width="0.6">–</tspan><tspan dy="-1">5.0</tspan></text>
<text x="139.8" y="757.8" font-size="30" text-anchor="middle" textLength="16.4" lengthAdjust="spacingAndGlyphs">0</text>
<text x="227.9" y="757.8" font-size="30" text-anchor="middle" textLength="16.4" lengthAdjust="spacingAndGlyphs">5</text>
<text x="314.0" y="757.8" font-size="30" text-anchor="middle" textLength="32.8" lengthAdjust="spacingAndGlyphs">10</text>
<text x="401.5" y="757.8" font-size="30" text-anchor="middle" textLength="32.8" lengthAdjust="spacingAndGlyphs">15</text>
<text x="489.0" y="757.8" font-size="30" text-anchor="middle" textLength="32.8" lengthAdjust="spacingAndGlyphs">20</text>
<text x="577.7" y="757.8" font-size="30" text-anchor="middle" textLength="32.8" lengthAdjust="spacingAndGlyphs">25</text>
<text x="664.0" y="757.8" font-size="30" text-anchor="middle" textLength="32.8" lengthAdjust="spacingAndGlyphs">30</text>
<text x="751.5" y="757.8" font-size="30" text-anchor="middle" textLength="32.8" lengthAdjust="spacingAndGlyphs">35</text>
<text x="839.0" y="757.8" font-size="30" text-anchor="middle" textLength="32.8" lengthAdjust="spacingAndGlyphs">40</text>
<text x="927.1" y="757.8" font-size="30" text-anchor="middle" textLength="32.8" lengthAdjust="spacingAndGlyphs">45</text>
<text x="1011.8" y="757.8" font-size="30" text-anchor="middle" textLength="32.8" lengthAdjust="spacingAndGlyphs">50</text>
<text x="577.7" y="804" font-size="29.5" text-anchor="middle" textLength="270" lengthAdjust="spacingAndGlyphs">FREQUENCY (GHz)</text>
<text transform="translate(34,368.4) rotate(-90)" x="0" y="0" font-size="29.5" text-anchor="middle" textLength="614" lengthAdjust="spacingAndGlyphs">INSERTION LOSS FOR RFC TO RFx ON (dB)</text>
</svg></body></html>
